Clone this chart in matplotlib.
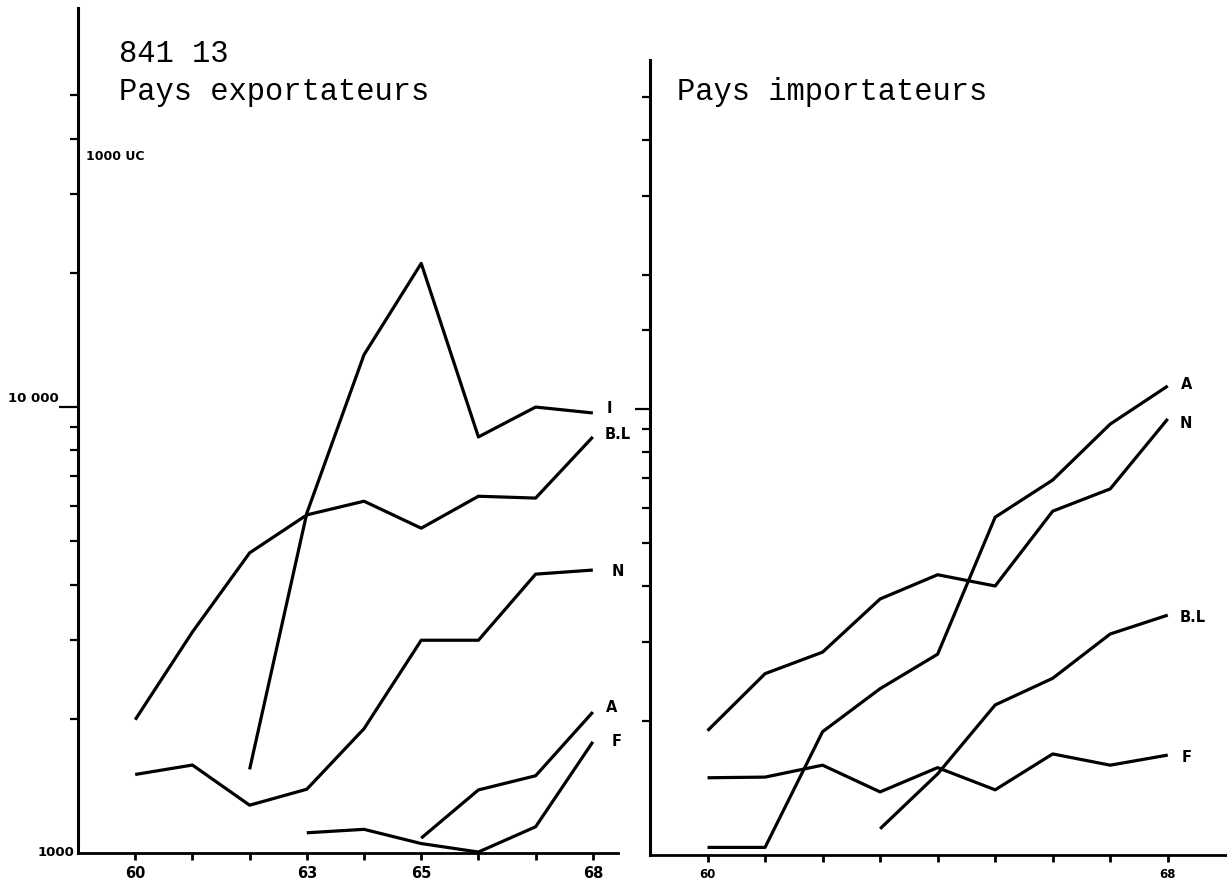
import matplotlib
matplotlib.use('Agg')
import matplotlib.pyplot as plt
from matplotlib.ticker import FixedLocator, NullFormatter

# --- data (1000 UC) ---
years = [60, 61, 62, 63, 64, 65, 66, 67, 68]

# Pays exportateurs
exp_I_years = [62, 63, 64, 65, 66, 67, 68]
exp_I = [1540, 5780, 13100, 21000, 8570, 10000, 9700]
exp_BL = [1990, 3130, 4710, 5730, 6150, 5350, 6310, 6250, 8570]
exp_N = [1500, 1575, 1280, 1390, 1900, 3000, 3000, 4220, 4310]
exp_A_years = [65, 66, 67, 68]
exp_A = [1080, 1385, 1490, 2070]
exp_F_years = [63, 64, 65, 66, 67, 68]
exp_F = [1110, 1130, 1050, 1005, 1145, 1775]

# Pays importateurs
imp_A = [1040, 1040, 1890, 2360, 2820, 5720, 6930, 9250, 11260]
imp_N = [1900, 2550, 2850, 3750, 4250, 4010, 5900, 6620, 9500]
imp_BL_years = [63, 64, 65, 66, 67, 68]
imp_BL = [1145, 1520, 2170, 2490, 3130, 3450]
imp_F = [1490, 1495, 1590, 1385, 1570, 1400, 1685, 1590, 1675]

minor_vals = [2000, 3000, 4000, 5000, 6000, 7000, 8000, 9000,
              20000, 30000, 40000, 50000]

W, H = 1227, 883
fig = plt.figure(figsize=(W / 100, H / 100), dpi=100)


def px_axes(x0, y_top, x1, y_bot):
    return fig.add_axes([x0 / W, 1 - y_bot / H, (x1 - x0) / W, (y_bot - y_top) / H])


def style(ax, ymax, xmax, long_tick):
    ax.set_yscale('log')
    ax.set_ylim(1000, ymax)
    ax.set_xlim(59.0, xmax)
    for s in ('top', 'right'):
        ax.spines[s].set_visible(False)
    ax.spines['left'].set_linewidth(2.2)
    ax.spines['bottom'].set_linewidth(2.0)
    ax.yaxis.set_major_locator(FixedLocator([10000]))
    ax.yaxis.set_minor_locator(FixedLocator(minor_vals))
    ax.yaxis.set_major_formatter(NullFormatter())
    ax.yaxis.set_minor_formatter(NullFormatter())
    ax.tick_params(axis='y', which='major', direction='out', length=long_tick, width=1.6)
    ax.tick_params(axis='y', which='minor', direction='out', length=6, width=1.6)
    ax.tick_params(axis='x', which='both', direction='out', length=5, width=2,
                   labelsize=10.5, pad=4)
    ax.set_xticks(years)
    ax.patch.set_alpha(0)


def draw(ax, x, y, label, dx, dy):
    ax.plot(x, y, color='black', lw=2.3, solid_joinstyle='round', solid_capstyle='butt')
    ax.annotate(label, xy=(x[-1], y[-1]), xytext=(dx, dy), textcoords='offset pixels',
                ha='left', va='center', fontsize=10.5, fontweight='bold')


# left panel: exports
ax1 = px_axes(78, 8, 618, 853)
style(ax1, 78500, 68.44, 14)
ax1.set_xticklabels(['60', '', '', '63', '', '65', '', '', '68'], fontweight='bold')
draw(ax1, exp_I_years, exp_I, 'I', 14, 4)
draw(ax1, years, exp_BL, 'B.L', 12, 2)
draw(ax1, years, exp_N, 'N', 19, -1)
draw(ax1, exp_A_years, exp_A, 'A', 13, 5)
draw(ax1, exp_F_years, exp_F, 'F', 19, 0)

# right panel: imports
ax2 = px_axes(650, 60, 1227, 855)
style(ax2, 60600, 69.03, 11)
ax2.yaxis.set_minor_locator(FixedLocator(minor_vals + [15000]))
ax2.set_xticklabels(['60', '', '', '', '', '', '', '', '68'], fontweight='bold', fontsize=8.5)
draw(ax2, years, imp_A, 'A', 13, 2)
draw(ax2, years, imp_N, 'N', 12, -5)
draw(ax2, imp_BL_years, imp_BL, 'B.L', 12, -2)
draw(ax2, years, imp_F, 'F', 14, -2)

# titles
mono = 'Liberation Mono'
fig.text(119 / W, 1 - 62 / H, '841 13', family=mono, fontsize=22, va='baseline')
fig.text(119 / W, 1 - 100 / H, 'Pays exportateurs', family=mono, fontsize=22, va='baseline')
fig.text(677 / W, 1 - 100 / H, 'Pays importateurs', family=mono, fontsize=22, va='baseline')

# axis annotations
fig.text(86 / W, 1 - 156 / H, '1000 UC', fontsize=9, fontweight='bold', va='center')
fig.text(8 / W, 1 - 399 / H, '10 000', fontsize=9.5, fontweight='bold', va='center')
fig.text(38 / W, 1 - 852 / H, '1000', fontsize=9.5, fontweight='bold', va='center')

fig.savefig('out.png', dpi=100, facecolor='white')
